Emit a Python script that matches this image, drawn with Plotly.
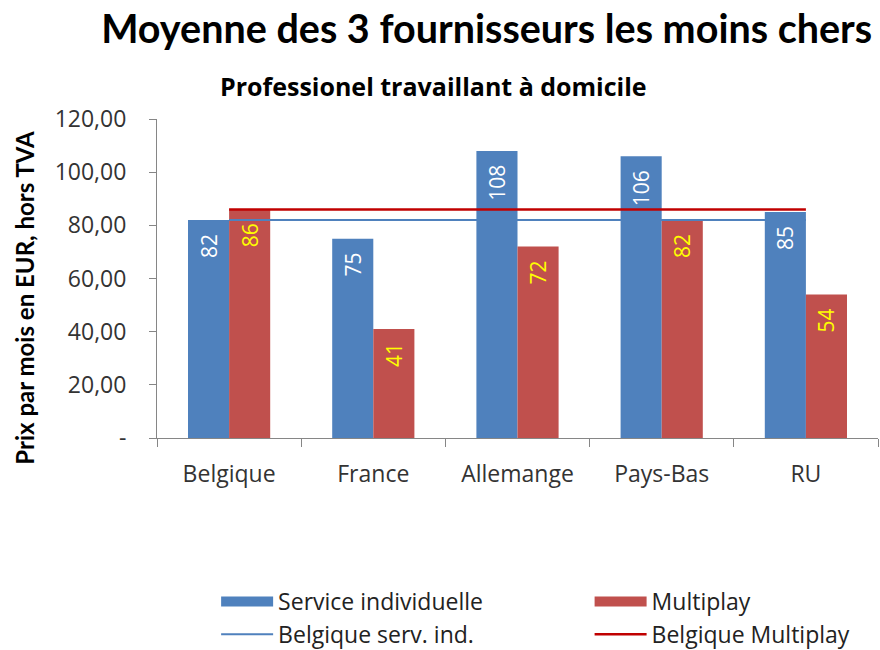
import plotly.graph_objects as go

countries = ['Belgique', 'France', 'Allemange', 'Pays-Bas', 'RU']
service_individuelle = [82, 75, 108, 106, 85]
multiplay = [86, 41, 72, 82, 54]
belgique_serv_ind = [82, 82, 82, 82, 82]
belgique_multiplay = [86, 86, 86, 86, 86]

y_tickvals = [0, 20, 40, 60, 80, 100, 120]
y_ticktext = ['-', '20,00', '40,00', '60,00', '80,00', '100,00', '120,00']

BLUE = '#4F81BD'
RED = '#C0504D'
DARK_RED = '#C00000'
FONT = 'Open Sans'
PAD = '\u00a0\u00a0'  # keeps the value labels a little below the bar top

fig = go.Figure()
fig.add_trace(go.Bar(x=countries, y=service_individuelle, name='Service individuelle',
                     marker=dict(color=BLUE, line=dict(width=0)), showlegend=False,
                     texttemplate='%{y:.0f}' + PAD, textposition='inside', insidetextanchor='end',
                     textangle=-90, insidetextfont=dict(color='white', size=21, family=FONT)))
fig.add_trace(go.Bar(x=countries, y=multiplay, name='Multiplay',
                     marker=dict(color=RED, line=dict(width=0)), showlegend=False,
                     texttemplate='%{y:.0f}' + PAD, textposition='inside', insidetextanchor='end',
                     textangle=-90, insidetextfont=dict(color='#FFFF00', size=21, family=FONT)))
# legend-only entries so the bar swatches look like wide rectangles
fig.add_trace(go.Scatter(x=[None], y=[None], mode='lines', name='Service individuelle',
                         line=dict(color=BLUE, width=14), legend='legend', legendgroup='a'))
fig.add_trace(go.Scatter(x=[None], y=[None], mode='lines', name='Multiplay',
                         line=dict(color=RED, width=14), legend='legend2', legendgroup='b'))
fig.add_trace(go.Scatter(x=countries, y=belgique_serv_ind, mode='lines', name='Belgique serv. ind.',
                         line=dict(color=BLUE, width=2), legend='legend', legendgroup='c'))
fig.add_trace(go.Scatter(x=countries, y=belgique_multiplay, mode='lines', name='Belgique Multiplay',
                         line=dict(color=DARK_RED, width=2.5), legend='legend2', legendgroup='d'))

legend_style = dict(orientation='v', y=-0.445, xanchor='left', yanchor='top',
                    itemwidth=52, tracegroupgap=0, bgcolor='rgba(0,0,0,0)',
                    font=dict(family=FONT, size=23, color='#222222'))

fig.update_layout(
    width=880, height=650,
    margin=dict(l=157, r=2, t=119, b=212, autoexpand=False),
    paper_bgcolor='white', plot_bgcolor='white',
    barmode='group', bargap=0.43, bargroupgap=0,
    font=dict(family=FONT, color='#222222'),
    title=dict(text='<b>Moyenne des 3 fournisseurs les moins chers</b>',
               font=dict(family='Lato', size=39.5, color='black'),
               x=0.553, xanchor='center', y=0.955, yanchor='middle'),
    annotations=[
        dict(text='<b>Professionel travaillant à domicile</b>', xref='paper', yref='paper',
             x=0.383, y=1.105, xanchor='center', yanchor='middle', showarrow=False,
             font=dict(family='Open Sans', size=25, color='black')),
        dict(text='<b>Prix par mois en EUR, hors TVA</b>', xref='paper', yref='paper',
             x=-0.183, y=0.44, xanchor='center', yanchor='middle', showarrow=False, textangle=-90,
             font=dict(family='Lato', size=24, color='black')),
    ],
    legend=dict(x=0.082, **legend_style),
    legend2=dict(x=0.60, **legend_style),
)
fig.update_yaxes(range=[0, 120], tickvals=y_tickvals, ticktext=y_ticktext, automargin=False,
                 showgrid=False, zeroline=False, showline=True, linecolor='#868686', linewidth=1,
                 ticks='outside', ticklen=7, tickcolor='#868686', ticklabelstandoff=18,
                 tickfont=dict(family=FONT, size=23, color='#333333'))
fig.update_xaxes(showgrid=False, showline=True, linecolor='#868686', linewidth=1, automargin=False,
                 ticks='outside', tickson='boundaries', ticklen=8, tickcolor='#868686',
                 ticklabelstandoff=15, tickfont=dict(family=FONT, size=23, color='#333333'))

fig.write_html("out.html", config={'displayModeBar': False},
               post_script="document.body.style.margin='0';")
